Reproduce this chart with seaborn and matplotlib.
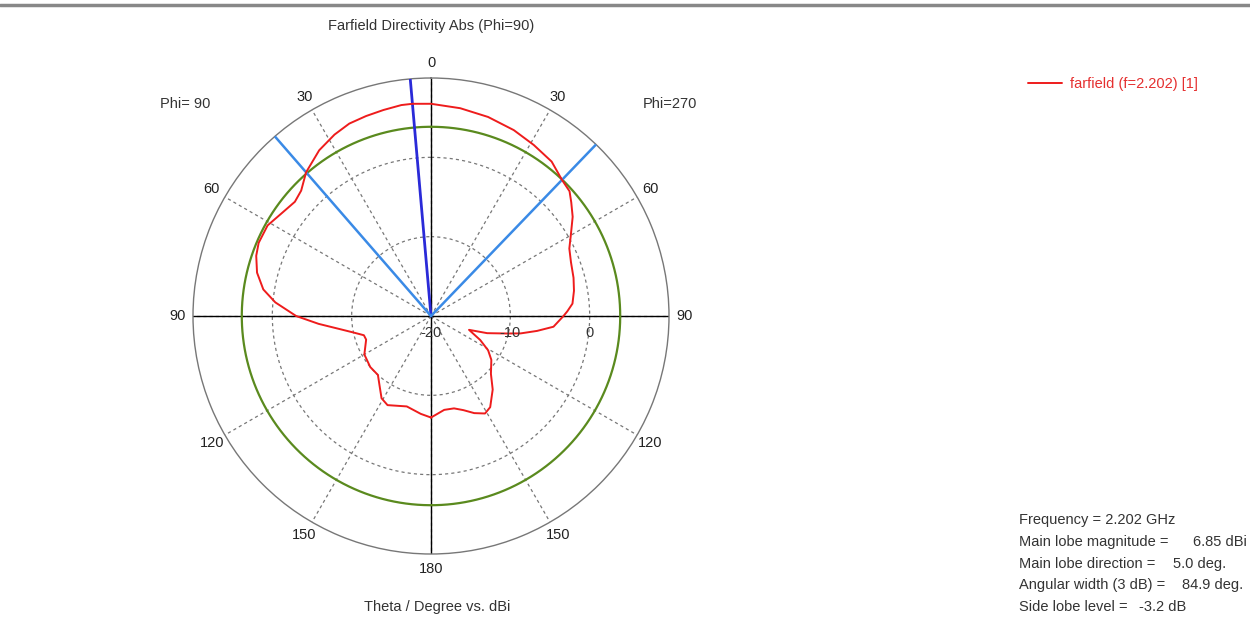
import numpy as np
import pandas as pd
import matplotlib
matplotlib.use("Agg")
import matplotlib.pyplot as plt
import seaborn as sns
from matplotlib.lines import Line2D

# Farfield cut: theta in degrees
# (negative = Phi=90 half on the left, positive = Phi=270 half on the right)
theta_deg = [-180, -174, -165, -154, -149, -144, -138, -130, -120, -110,
             -106, -102, -98, -94, -90, -85, -81, -76, -71, -67,
             -61, -55, -50, -46, -41, -34, -28, -23, -18, -13,
             -8, -5, 0, 8, 16, 24, 31, 38, 44, 48,
             51, 55, 60, 64, 69, 75, 80, 85, 88, 90,
             95, 98, 101, 103, 107, 110, 116, 121, 126, 134,
             140, 147, 151, 156, 161, 166, 172, 180]
directivity = [-7.2, -7.6, -8.2, -7.5, -7.9, -9.0, -10.0, -10.0, -10.3, -11.3,
               -11.2, -10.0, -8.3, -5.8, -3.0, -0.3, 1.4, 2.6, 3.3, 3.6,
               3.55, 2.8, 2.4, 2.75, 4.0, 5.2, 5.9, 6.35, 6.5, 6.65,
               6.85, 6.85, 6.75, 6.45, 6.1, 5.65, 5.15, 4.7, 3.8, 3.5,
               2.75, 1.8, 0.35, -0.6, -1.1, -1.4, -1.7, -2.1, -2.8, -3.3,
               -4.5, -6.5, -8.5, -10.2, -12.6, -14.9, -13.1, -11.6, -10.6, -9.5,
               -7.9, -6.3, -5.95, -6.6, -7.45, -8.0, -8.05, -7.2]

main_lobe_dir = -5.0
beam_edges = [-41.0, 43.9]
main_lobe_mag = 6.85
level_3db = main_lobe_mag - 3.0

r_min, r_max = -20, 10
ring_values = [-10, 0]
angle_ticks = list(range(0, 360, 30))
angle_labels = ["0", "30", "60", "90", "120", "150", "180",
                "150", "120", "90", "60", "30"]

info_labels = ["Frequency = 2.202 GHz", "Main lobe magnitude =",
               "Main lobe direction =", "Angular width (3 dB) =",
               "Side lobe level ="]
info_values = ["", "6.85 dBi", "5.0 deg.", "84.9 deg.", "-3.2 dB"]

df = pd.DataFrame({"theta": np.deg2rad(theta_deg), "dbi": directivity})

sns.set_theme(style="white")
plt.rcParams["font.family"] = ["Liberation Sans", "DejaVu Sans"]
fs = 10.5

W, H = 1250, 625
fig = plt.figure(figsize=(12.5, 6.25), dpi=100)
cx, cy, rad = 431, 316, 238
ax = fig.add_axes([(cx - rad) / W, (H - cy - rad) / H, 2 * rad / W, 2 * rad / H],
                  projection="polar")
ax.set_theta_zero_location("N")
ax.set_theta_direction(-1)
ax.set_ylim(r_min, r_max)

# grid: dashed rings and spokes
ax.set_rgrids(ring_values, labels=[""] * len(ring_values))
ax.set_thetagrids(angle_ticks, labels=angle_labels, fontsize=fs, color="#222222")
ax.tick_params(axis="x", pad=-2)
ax.grid(True, color="#777777", linestyle=(0, (2.5, 2.5)), linewidth=0.9)
ax.spines["polar"].set_color("#777777")
ax.spines["polar"].set_linewidth(1.0)

# solid axis cross
for a in [0, 90, 180, 270]:
    ax.plot([np.deg2rad(a)] * 2, [r_min, r_max], color="black", lw=1.0, zorder=2)

# -3 dB circle
circ = np.linspace(0, 2 * np.pi, 400)
ax.plot(circ, np.full_like(circ, level_3db), color="#5a8a1e", lw=1.6, zorder=3)

# beam direction and width lines
ax.plot([np.deg2rad(main_lobe_dir)] * 2, [r_min, r_max], color="#2a2ad8", lw=2.0, zorder=4)
for b in beam_edges:
    ax.plot([np.deg2rad(b)] * 2, [r_min, r_max], color="#3a8ae6", lw=1.8, zorder=4)

sns.lineplot(data=df, x="theta", y="dbi", ax=ax, color="#ee1c1c", lw=1.4,
             sort=False, estimator=None, zorder=5, label="farfield (f=2.202) [1]")
ax.set_xlabel("")
ax.set_ylabel("")

# radial scale labels below the horizontal axis
for v in [r_min] + ring_values:
    ax.annotate(str(v), xy=(np.pi / 2, v), xytext=(0, -12), textcoords="offset points",
                ha="center", va="center", fontsize=fs, color="#333333", zorder=6)

leg = ax.legend(loc="center left", bbox_to_anchor=(1015 / W, 1 - 84 / H),
                bbox_transform=fig.transFigure, frameon=False, fontsize=fs,
                handlelength=2.3, handletextpad=0.6)
for t in leg.get_texts():
    t.set_color("#e53030")

fig.text(cx / W, 1 - 26 / H, "Farfield Directivity Abs (Phi=90)", ha="center",
         va="center", fontsize=fs, color="#333333")
fig.text(437 / W, 1 - 607 / H, "Theta / Degree vs. dBi", ha="center",
         va="center", fontsize=fs, color="#333333")
fig.text(185 / W, 1 - 104 / H, "Phi= 90", ha="center", va="center", fontsize=fs,
         color="#333333")
fig.text(670 / W, 1 - 104 / H, "Phi=270", ha="center", va="center", fontsize=fs,
         color="#333333")

value_x = [None, 1193, 1173, 1182, 1139]
for i, (lab, val) in enumerate(zip(info_labels, info_values)):
    y = 1 - (520 + i * 21.8) / H
    fig.text(1019 / W, y, lab, ha="left", va="center", fontsize=fs, color="#333333")
    if val:
        fig.text(value_x[i] / W, y, val, ha="left", va="center", fontsize=fs,
                 color="#333333")

fig.add_artist(Line2D([0, 1], [1 - 5 / H, 1 - 5 / H], transform=fig.transFigure,
                      color="#888888", lw=2.5))

fig.savefig("out.png", dpi=100)
